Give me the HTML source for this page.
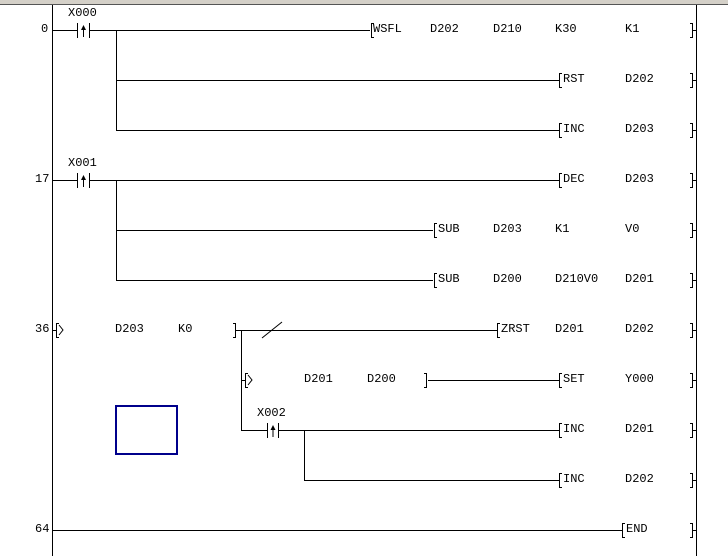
<!DOCTYPE html>
<html><head><style>
html,body{margin:0;padding:0;background:#fff;}
svg{display:block}
text{font-family:"Liberation Mono",monospace;font-size:12px;fill:#000;}
</style></head><body>
<svg width="728" height="556" viewBox="0 0 728 556" xmlns="http://www.w3.org/2000/svg">
<rect x="0" y="0" width="728" height="4" fill="#d4d0c8"/>
<line x1="0" y1="4.5" x2="728" y2="4.5" stroke="#555" stroke-width="1"/>
<g stroke="#000" stroke-width="1" fill="none" shape-rendering="crispEdges">
<line x1="52.5" y1="5" x2="52.5" y2="556"/>
<line x1="696.5" y1="5" x2="696.5" y2="556"/>
<!-- row 0 -->
<line x1="52" y1="30.5" x2="77" y2="30.5"/>
<line x1="77.5" y1="23" x2="77.5" y2="38"/><line x1="89.5" y1="23" x2="89.5" y2="38"/>
<line x1="89" y1="30.5" x2="370" y2="30.5"/>
<line x1="116.5" y1="30" x2="116.5" y2="130"/>
<line x1="116" y1="80.5" x2="560" y2="80.5"/>
<line x1="116" y1="130.5" x2="560" y2="130.5"/>
<!-- row 17 -->
<line x1="52" y1="180.5" x2="77" y2="180.5"/>
<line x1="77.5" y1="173" x2="77.5" y2="188"/><line x1="89.5" y1="173" x2="89.5" y2="188"/>
<line x1="89" y1="180.5" x2="560" y2="180.5"/>
<line x1="116.5" y1="180" x2="116.5" y2="280"/>
<line x1="116" y1="230.5" x2="433" y2="230.5"/>
<line x1="116" y1="280.5" x2="433" y2="280.5"/>
<!-- row 36 -->
<line x1="52" y1="330.5" x2="56" y2="330.5"/>
<line x1="236" y1="330.5" x2="497" y2="330.5"/>
<line x1="241.5" y1="330" x2="241.5" y2="431"/>
<line x1="241" y1="380.5" x2="245" y2="380.5"/>
<line x1="428" y1="380.5" x2="560" y2="380.5"/>
<line x1="241" y1="430.5" x2="267" y2="430.5"/>
<line x1="267.5" y1="423" x2="267.5" y2="438"/><line x1="278.5" y1="423" x2="278.5" y2="438"/>
<line x1="278" y1="430.5" x2="560" y2="430.5"/>
<line x1="304.5" y1="430" x2="304.5" y2="480"/>
<line x1="304" y1="480.5" x2="560" y2="480.5"/>
<line x1="52" y1="530.5" x2="623" y2="530.5"/>
</g>
<line x1="262" y1="338" x2="282" y2="322" stroke="#000" stroke-width="1"/>
<g fill="#000">
<path d="M83.5 25 L81 30 L86 30 Z"/><rect x="83" y="29" width="1" height="8"/>
<path d="M83.5 175 L81 180 L86 180 Z"/><rect x="83" y="179" width="1" height="8"/>
<path d="M273 425 L270.5 430 L275.5 430 Z"/><rect x="272.5" y="429" width="1" height="8"/>
</g>
<!-- brackets -->
<g stroke="#000" stroke-width="1" fill="none" shape-rendering="crispEdges">
<path d="M374 23.5 H371.5 V37.5 H374"/>
<path d="M562 73.5 H559.5 V87.5 H562"/>
<path d="M562 123.5 H559.5 V137.5 H562"/>
<path d="M562 173.5 H559.5 V187.5 H562"/>
<path d="M437 223.5 H434.5 V237.5 H437"/>
<path d="M437 273.5 H434.5 V287.5 H437"/>
<path d="M59 323.5 H56.5 V337.5 H59"/>
<path d="M500 323.5 H497.5 V337.5 H500"/>
<path d="M248 373.5 H245.5 V387.5 H248"/>
<path d="M562 373.5 H559.5 V387.5 H562"/>
<path d="M562 423.5 H559.5 V437.5 H562"/>
<path d="M562 473.5 H559.5 V487.5 H562"/>
<path d="M625 523.5 H622.5 V537.5 H625"/>
<path d="M233 323.5 H235.5 V337.5 H233"/>
<path d="M424 373.5 H426.5 V387.5 H424"/>
</g>
<g stroke="#000" stroke-width="1" fill="none" shape-rendering="crispEdges">
<path d="M690 23.5 H692.5 V37.5 H690 M692 30.5 H696"/>
<path d="M690 73.5 H692.5 V87.5 H690 M692 80.5 H696"/>
<path d="M690 123.5 H692.5 V137.5 H690 M692 130.5 H696"/>
<path d="M690 173.5 H692.5 V187.5 H690 M692 180.5 H696"/>
<path d="M690 223.5 H692.5 V237.5 H690 M692 230.5 H696"/>
<path d="M690 273.5 H692.5 V287.5 H690 M692 280.5 H696"/>
<path d="M690 323.5 H692.5 V337.5 H690 M692 330.5 H696"/>
<path d="M690 373.5 H692.5 V387.5 H690 M692 380.5 H696"/>
<path d="M690 423.5 H692.5 V437.5 H690 M692 430.5 H696"/>
<path d="M690 473.5 H692.5 V487.5 H690 M692 480.5 H696"/>
<path d="M690 523.5 H692.5 V537.5 H690 M692 530.5 H696"/>
</g>
<rect x="116" y="406" width="61" height="48" fill="none" stroke="#00008b" stroke-width="2"/>
<path d="M59 325 L63 330 L59 335 M248 375 L252 380 L248 385" stroke="#000" fill="none"/>
<text x="41" y="32">0</text>
<text x="35" y="182">17</text>
<text x="35" y="332">36</text>
<text x="35" y="532">64</text>
<text x="68" y="16">X000</text>
<text x="68" y="166">X001</text>
<text x="257" y="416">X002</text>
<text x="373" y="32">WSFL</text><text x="430" y="32">D202</text><text x="493" y="32">D210</text><text x="555" y="32">K30</text><text x="625" y="32">K1</text>
<text x="563" y="82">RST</text><text x="625" y="82">D202</text>
<text x="563" y="132">INC</text><text x="625" y="132">D203</text>
<text x="563" y="182">DEC</text><text x="625" y="182">D203</text>
<text x="438" y="232">SUB</text><text x="493" y="232">D203</text><text x="555" y="232">K1</text><text x="625" y="232">V0</text>
<text x="438" y="282">SUB</text><text x="493" y="282">D200</text><text x="555" y="282">D210V0</text><text x="625" y="282">D201</text>
<text x="115" y="332">D203</text><text x="178" y="332">K0</text>
<text x="501" y="332">ZRST</text><text x="555" y="332">D201</text><text x="625" y="332">D202</text>
<text x="304" y="382">D201</text><text x="367" y="382">D200</text>
<text x="563" y="382">SET</text><text x="625" y="382">Y000</text>
<text x="563" y="432">INC</text><text x="625" y="432">D201</text>
<text x="563" y="482">INC</text><text x="625" y="482">D202</text>
<text x="626" y="532">END</text>
</svg>
</body></html>
